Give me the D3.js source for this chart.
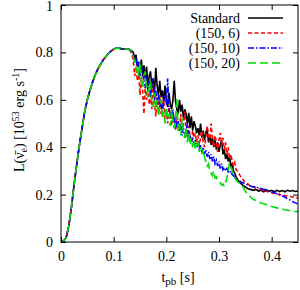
<!DOCTYPE html>
<html><head><meta charset="utf-8">
<script src="https://cdn.jsdelivr.net/npm/d3@7"></script>
<style>body{margin:0;background:#fff}svg{display:block}text{font-family:"Liberation Serif","Times New Roman",serif}</style>
</head><body><div id="c"></div>
<script>
const riseT=[0,0.005,0.010,0.015,0.020,0.025,0.030,0.035,0.040,0.045,0.050,0.055,0.060,0.065,0.070,0.075,0.080,0.085,0.090,0.095,0.100,0.105,0.110,0.115,0.120,0.125,0.130];
const riseL=[0,0.004,0.02,0.07,0.15,0.245,0.33,0.41,0.48,0.55,0.60,0.64,0.675,0.705,0.73,0.75,0.768,0.782,0.795,0.805,0.814,0.818,0.818,0.815,0.814,0.814,0.812];
const tailT=[0.135,0.1375,0.14,0.1425,0.145,0.1475,0.15,0.1525,0.155,0.1575,
0.16,0.1625,0.165,0.1675,0.17,0.1725,0.175,0.1775,0.18,0.1825,
0.185,0.1875,0.19,0.1925,0.195,0.1975,0.2,0.2025,0.205,0.2075,
0.21,0.2125,0.215,0.2175,0.22,0.2225,0.225,0.2275,0.23,0.2325,
0.235,0.2375,0.24,0.2425,0.245,0.2475,0.25,0.2525,0.255,0.2575,
0.26,0.2625,0.265,0.2675,0.27,0.2725,0.275,0.2775,0.28,0.2825,
0.285,0.2875,0.29,0.2925,0.295,0.2975,0.3,0.3025,0.305,0.3075,
0.31,0.3125,0.315,0.3175,0.32,0.3225,0.325,0.3275,0.33,0.3325,
0.335,0.3375,0.34,
0.345,0.350,0.355,0.360,0.365,0.370,0.375,0.380,0.385,0.390,0.395,0.400,0.405,0.410,0.415,0.420,0.425,0.430,0.435,0.440,0.445,0.450];
const stdL=[0.805,0.800,0.770,0.790,0.740,0.760,0.720,0.770,0.700,0.745,
0.690,0.740,0.660,0.700,0.720,0.650,0.690,0.630,0.735,0.660,
0.620,0.680,0.610,0.640,0.590,0.660,0.600,0.570,0.630,0.580,
0.560,0.600,0.680,0.590,0.560,0.540,0.600,0.550,0.580,0.520,
0.560,0.540,0.500,0.545,0.480,0.530,0.470,0.510,0.490,0.460,
0.480,0.450,0.500,0.440,0.470,0.430,0.460,0.480,0.420,0.450,
0.410,0.440,0.400,0.430,0.390,0.420,0.380,0.410,0.430,0.370,
0.390,0.350,0.370,0.340,0.360,0.320,0.330,0.300,0.290,0.275,
0.265,0.255,0.250,
0.240,0.232,0.225,0.222,0.218,0.222,0.215,0.218,0.212,0.220,0.214,0.218,0.212,0.218,0.213,0.217,0.212,0.218,0.214,0.217,0.213,0.215];
const r6L=[0.790,0.760,0.700,0.740,0.680,0.720,0.620,0.700,0.640,0.540,
0.660,0.600,0.650,0.580,0.620,0.560,0.670,0.590,0.530,0.610,
0.560,0.620,0.540,0.580,0.600,0.520,0.560,0.500,0.570,0.530,
0.490,0.550,0.510,0.470,0.530,0.500,0.480,0.540,0.460,0.500,
0.550,0.470,0.440,0.490,0.450,0.420,0.470,0.440,0.460,0.420,
0.450,0.410,0.440,0.470,0.420,0.400,0.440,0.490,0.450,0.420,
0.500,0.440,0.400,0.450,0.420,0.380,0.430,0.460,0.410,0.440,
0.390,0.420,0.370,0.400,0.350,0.370,0.340,0.320,0.335,0.305,
0.300,0.290,0.280,
0.265,0.250,0.245,0.235,0.232,0.228,0.225,0.222,0.216,0.214,0.210,0.208,0.205,0.203,0.200,0.198,0.196,0.194,0.192,0.190,0.188,0.186];
const r10L=[0.800,0.790,0.760,0.780,0.740,0.760,0.700,0.740,0.720,0.680,
0.650,0.700,0.640,0.680,0.610,0.660,0.690,0.600,0.640,0.580,
0.620,0.570,0.600,0.550,0.590,0.620,0.580,0.690,0.560,0.540,
0.520,0.560,0.500,0.530,0.480,0.510,0.470,0.500,0.450,0.480,
0.440,0.470,0.500,0.430,0.450,0.420,0.440,0.410,0.430,0.400,
0.420,0.390,0.410,0.380,0.400,0.370,0.390,0.360,0.380,0.350,
0.370,0.340,0.360,0.330,0.345,0.320,0.340,0.310,0.330,0.305,
0.315,0.300,0.310,0.295,0.290,0.300,0.285,0.280,0.275,0.270,
0.265,0.262,0.255,
0.250,0.245,0.240,0.236,0.232,0.234,0.228,0.226,0.222,0.220,0.216,0.212,0.208,0.204,0.200,0.195,0.190,0.183,0.177,0.170,0.165,0.160];
const r20L=[0.800,0.780,0.760,0.720,0.740,0.700,0.760,0.680,0.650,0.700,
0.720,0.640,0.610,0.660,0.680,0.590,0.570,0.630,0.560,0.600,
0.530,0.570,0.600,0.520,0.550,0.500,0.570,0.520,0.540,0.490,
0.560,0.500,0.480,0.520,0.610,0.470,0.500,0.450,0.520,0.460,
0.440,0.480,0.420,0.460,0.410,0.440,0.400,0.430,0.390,0.410,
0.420,0.380,0.400,0.370,0.390,0.360,0.340,0.320,0.330,0.300,
0.290,0.280,0.300,0.270,0.275,0.260,0.255,0.250,0.240,0.245,
0.235,0.250,0.270,0.300,0.335,0.320,0.300,0.285,0.270,0.262,
0.255,0.250,0.245,
0.235,0.215,0.200,0.190,0.180,0.175,0.170,0.165,0.161,0.157,0.153,0.150,0.147,0.144,0.141,0.139,0.136,0.134,0.132,0.131,0.129,0.128];
const seriesNames=["Standard","(150, 6)","(150, 10)","(150, 20)"];
const seriesColors=["#000000","#ff0000","#0000ff","#00dd00"];
const seriesDash=["none","4,2.5","6,2,1.5,2","8,4"];
const seriesVals=[stdL,r6L,r10L,r20L];
const xTicks=[0,0.1,0.2,0.3,0.4];
const yTicks=[0,0.2,0.4,0.6,0.8,1];

const W=300,H=290,m={l:61,r:2,t:5,b:48};
const svg=d3.select("#c").append("svg").attr("width",W).attr("height",H);
const x=d3.scaleLinear().domain([0,0.45]).range([m.l,W-m.r]);
const y=d3.scaleLinear().domain([0,1]).range([H-m.b,m.t]);
const line=d3.line().x(d=>x(d[0])).y(d=>y(d[1]));
svg.append("clipPath").attr("id","cp").append("rect").attr("x",m.l).attr("y",m.t).attr("width",W-m.r-m.l).attr("height",H-m.b-m.t);
const g=svg.append("g").attr("clip-path","url(#cp)");
[0,1,2,3].forEach(i=>{
  const T=riseT.concat(tailT), L=riseL.concat(seriesVals[i]);
  g.append("path").datum(T.map((t,k)=>[t,L[k]])).attr("d",line).attr("fill","none")
   .attr("stroke",seriesColors[i]).attr("stroke-width",1.6).attr("stroke-dasharray",seriesDash[i]);
});
const fs=14;
const xa=d3.axisBottom(x).tickValues(xTicks).tickSize(-5).tickPadding(9).tickFormat(d3.format("~g"));
const ya=d3.axisLeft(y).tickValues(yTicks).tickSize(-5).tickPadding(8).tickFormat(d3.format("~g"));
const xt=d3.axisTop(x).tickValues(xTicks).tickSize(-5).tickFormat("");
const yr=d3.axisRight(y).tickValues(yTicks).tickSize(-5).tickFormat("");
function style(s){s.select(".domain").remove();s.selectAll("line").attr("stroke","#000");s.selectAll("text").attr("font-size",fs).attr("font-family","Liberation Serif").attr("fill","#000");}
svg.append("g").attr("transform",`translate(0,${H-m.b})`).call(xa).call(style);
const yg=svg.append("g").attr("transform",`translate(${m.l},0)`).call(ya).call(style);
yg.selectAll("text").filter(d=>d===1).attr("dy","0.38em");
svg.append("g").attr("transform",`translate(0,${m.t})`).call(xt).call(style);
svg.append("g").attr("transform",`translate(${W-m.r},0)`).call(yr).call(style);
svg.append("rect").attr("x",m.l).attr("y",m.t).attr("width",W-m.r-m.l).attr("height",H-m.b-m.t).attr("fill","none").attr("stroke","#000").attr("stroke-width",1);
const lg=svg.append("g");
seriesNames.forEach((n,i)=>{
  const yy=18+i*15;
  lg.append("rect").attr("x",186).attr("y",yy-7).attr("width",100).attr("height",14).attr("fill","#fff");
  lg.append("text").attr("x",240).attr("y",yy+5).attr("text-anchor","end").attr("font-size",fs).text(n);
  lg.append("line").attr("x1",248).attr("x2",283).attr("y1",yy).attr("y2",yy).attr("stroke",seriesColors[i]).attr("stroke-width",1.6).attr("stroke-dasharray",seriesDash[i]);
});
const xl=svg.append("text").attr("x",178).attr("y",282).attr("text-anchor","middle").attr("font-size",fs);
xl.append("tspan").text("t");
xl.append("tspan").attr("font-size",11).attr("dy",3).text("pb");
xl.append("tspan").attr("dy",-3).text(" [s]");
const yl=svg.append("text").attr("transform","translate(24,120) rotate(-90)").attr("text-anchor","middle").attr("font-size",fs);
yl.append("tspan").text("L(\u03BD\u0304");
yl.append("tspan").attr("font-size",10).attr("dy",3).text("e");
yl.append("tspan").attr("dy",-3).text(") [10");
yl.append("tspan").attr("font-size",10).attr("dy",-5).text("53");
yl.append("tspan").attr("dy",5).text(" erg s");
yl.append("tspan").attr("font-size",10).attr("dy",-5).text("-1");
yl.append("tspan").attr("dy",5).text("]");
</script></body></html>
